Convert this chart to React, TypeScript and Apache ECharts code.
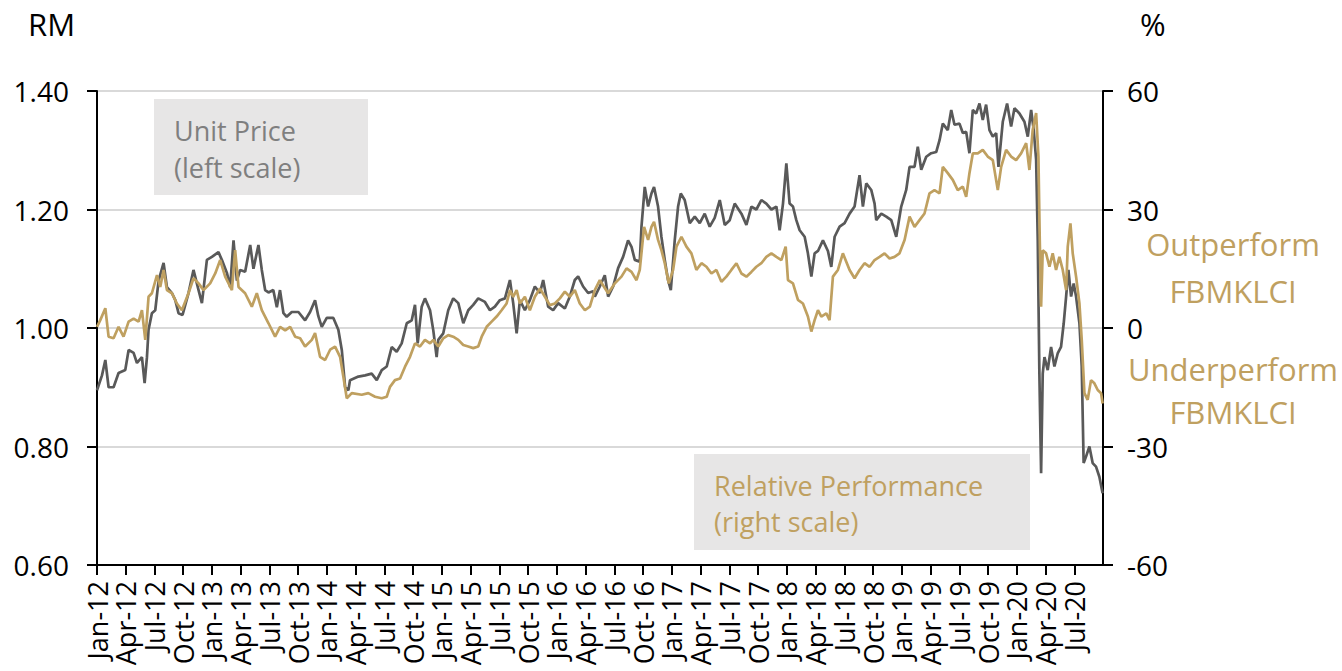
import React, { useEffect, useRef } from 'react';
import * as echarts from 'echarts';

// x value = months since Jan-12 (0 = start of Jan 2012)
const xTickLabels = [
  'Jan-12', 'Apr-12', 'Jul-12', 'Oct-12',
  'Jan-13', 'Apr-13', 'Jul-13', 'Oct-13',
  'Jan-14', 'Apr-14', 'Jul-14', 'Oct-14',
  'Jan-15', 'Apr-15', 'Jul-15', 'Oct-15',
  'Jan-16', 'Apr-16', 'Jul-16', 'Oct-16',
  'Jan-17', 'Apr-17', 'Jul-17', 'Oct-17',
  'Jan-18', 'Apr-18', 'Jul-18', 'Oct-18',
  'Jan-19', 'Apr-19', 'Jul-19', 'Oct-19',
  'Jan-20', 'Apr-20', 'Jul-20',
];
const leftTickLabels = ['0.60', '0.80', '1.00', '1.20', '1.40'];
const rightTickLabels = ['-60', '-30', '0', '30', '60'];

// Unit price (RM, left scale): [month, price]
const unitPrice: [number, number][] = [
  [0.0, 0.895], [0.52, 0.92], [0.87, 0.946], [1.21, 0.9], [1.73, 0.9], [2.25, 0.924],
  [2.95, 0.929], [3.3, 0.963], [3.82, 0.958], [4.17, 0.941], [4.69, 0.951], [4.97, 0.907],
  [5.21, 0.95], [5.38, 0.997], [5.73, 1.025], [6.08, 1.03], [6.43, 1.08], [6.95, 1.11],
  [7.3, 1.069], [7.82, 1.059], [8.17, 1.047], [8.51, 1.025], [8.93, 1.022], [9.55, 1.059],
  [10.07, 1.098], [10.6, 1.064], [10.95, 1.042], [11.47, 1.115], [11.99, 1.12], [12.68, 1.128],
  [13.03, 1.115], [13.56, 1.093], [13.9, 1.069], [14.25, 1.148], [14.6, 1.08], [14.94, 1.098],
  [15.46, 1.095], [15.99, 1.14], [16.33, 1.1], [16.85, 1.14], [17.2, 1.098], [17.55, 1.064],
  [17.9, 1.06], [18.4, 1.064], [18.77, 1.035], [19.1, 1.064], [19.46, 1.025], [19.8, 1.019],
  [20.33, 1.027], [21.02, 1.027], [21.72, 1.013], [22.24, 1.027], [22.76, 1.047], [23.1, 1.02],
  [23.46, 1.002], [23.98, 1.017], [24.67, 1.017], [25.19, 0.997], [25.55, 0.963], [25.9, 0.9],
  [26.24, 0.895], [26.41, 0.912], [27.28, 0.918], [27.98, 0.92], [28.67, 0.923], [29.2, 0.912],
  [29.72, 0.929], [30.24, 0.935], [30.76, 0.968], [31.28, 0.96], [31.8, 0.974], [32.33, 1.008],
  [32.85, 1.013], [33.19, 1.039], [33.47, 0.974], [33.89, 1.036], [34.23, 1.05], [34.76, 1.03],
  [35.1, 0.996], [35.45, 0.951], [35.62, 0.98], [36.14, 0.991], [36.66, 1.03], [37.18, 1.05],
  [37.71, 1.042], [38.23, 1.008], [38.75, 1.03], [39.27, 1.039], [39.79, 1.05], [40.49, 1.044],
  [41.01, 1.03], [41.53, 1.036], [42.05, 1.047], [42.58, 1.05], [43.1, 1.081], [43.44, 1.042],
  [43.8, 0.991], [44.14, 1.047], [44.66, 1.03], [45.18, 1.047], [45.7, 1.07], [46.23, 1.059],
  [46.57, 1.081], [47.09, 1.036], [47.61, 1.03], [48.13, 1.042], [48.83, 1.033], [49.35, 1.053],
  [49.87, 1.081], [50.22, 1.087], [50.74, 1.07], [51.26, 1.059], [51.78, 1.062], [51.96, 1.053],
  [52.48, 1.07], [53.0, 1.089], [53.35, 1.053], [53.87, 1.07], [54.39, 1.101], [54.91, 1.12],
  [55.43, 1.148], [55.79, 1.137], [56.13, 1.115], [56.65, 1.112], [56.83, 1.171], [57.17, 1.238],
  [57.52, 1.205], [57.87, 1.227], [58.14, 1.238], [58.56, 1.205], [58.91, 1.154], [59.26, 1.115],
  [59.6, 1.081], [59.89, 1.064], [60.3, 1.148], [60.65, 1.205], [60.93, 1.227], [61.34, 1.216],
  [61.87, 1.177], [62.39, 1.188], [62.91, 1.177], [63.43, 1.193], [63.95, 1.171], [64.47, 1.186],
  [65.0, 1.216], [65.52, 1.174], [66.04, 1.182], [66.56, 1.21], [67.26, 1.193], [67.78, 1.174],
  [68.3, 1.205], [68.82, 1.2], [69.34, 1.216], [69.86, 1.21], [70.39, 1.2], [70.91, 1.205],
  [71.25, 1.165], [71.6, 1.21], [71.95, 1.278], [72.29, 1.21], [72.64, 1.205], [72.99, 1.182],
  [73.34, 1.165], [73.86, 1.154], [74.2, 1.126], [74.56, 1.087], [74.9, 1.126], [75.25, 1.13],
  [75.77, 1.148], [76.29, 1.13], [76.64, 1.103], [76.99, 1.154], [77.51, 1.171], [78.03, 1.177],
  [78.55, 1.193], [79.07, 1.205], [79.59, 1.258], [79.94, 1.205], [80.29, 1.244], [80.81, 1.233],
  [81.16, 1.21], [81.33, 1.182], [81.86, 1.193], [82.38, 1.188], [82.9, 1.182], [83.42, 1.154],
  [83.94, 1.205], [84.46, 1.233], [84.81, 1.272], [85.33, 1.272], [85.67, 1.306], [86.03, 1.267],
  [86.55, 1.289], [87.07, 1.295], [87.59, 1.297], [87.94, 1.317], [88.28, 1.345], [88.8, 1.334],
  [89.16, 1.368], [89.5, 1.343], [90.02, 1.345], [90.37, 1.329], [90.72, 1.331], [91.06, 1.295],
  [91.41, 1.368], [91.76, 1.362], [92.11, 1.379], [92.45, 1.351], [92.8, 1.377], [93.15, 1.334],
  [93.5, 1.323], [93.85, 1.329], [94.09, 1.272], [94.54, 1.348], [94.99, 1.379], [95.41, 1.34],
  [95.76, 1.371], [96.28, 1.362], [96.8, 1.348], [97.15, 1.323], [97.5, 1.368], [97.77, 1.334],
  [98.02, 1.284], [98.19, 1.148], [98.36, 0.923], [98.54, 0.755], [98.71, 0.923], [98.89, 0.951],
  [99.23, 0.929], [99.58, 0.968], [99.93, 0.935], [100.27, 0.957], [100.62, 0.968], [100.9, 1.008],
  [101.15, 1.053], [101.39, 1.098], [101.67, 1.053], [101.94, 1.075], [102.19, 1.053], [102.54, 1.008],
  [102.78, 0.935], [102.98, 0.772], [103.23, 0.783], [103.58, 0.8], [103.92, 0.772], [104.27, 0.766],
  [104.62, 0.749], [104.96, 0.721],
];

// Relative performance vs FBMKLCI (%, right scale): [month, pct]
const relativePerf: [number, number][] = [
  [0, 0.3], [0.34, 2.0], [0.87, 5.0], [1.21, -2.2], [1.73, -2.6], [2.25, 0.3],
  [2.77, -2.2], [3.3, 1.6], [3.82, 2.4], [4.34, 1.6], [4.69, 4.5], [5.04, -3.0],
  [5.38, 7.9], [5.73, 8.8], [6.26, 13.4], [6.6, 10.4], [6.95, 14.7], [7.3, 9.6],
  [7.82, 8.8], [8.34, 6.2], [8.86, 4.5], [9.55, 8.8], [10.07, 12.6], [10.6, 11.3],
  [11.12, 9.6], [11.81, 11.3], [12.34, 13.8], [12.86, 17.2], [13.38, 13.0], [14.08, 9.6],
  [14.42, 19.7], [14.77, 10.4], [15.46, 8.8], [16.16, 5.4], [16.68, 8.8], [17.2, 4.5],
  [17.9, 1.2], [18.59, -2.2], [19.11, 0.3], [19.64, -0.6], [20.16, 0.3], [20.68, -2.2],
  [21.2, -2.6], [21.72, -4.7], [22.42, -3.0], [22.76, -1.3], [23.28, -7.3], [23.81, -8.1],
  [24.33, -5.5], [24.85, -4.7], [25.37, -7.3], [25.71, -12.3], [26.07, -17.8], [26.59, -16.5],
  [27.63, -16.9], [28.32, -16.5], [29.02, -17.4], [29.72, -17.8], [30.24, -17.4], [30.58, -14.9],
  [31.1, -13.2], [31.63, -12.8], [32.15, -9.8], [32.67, -7.3], [33.19, -3.9], [33.71, -4.7],
  [34.23, -3.0], [34.76, -3.9], [35.1, -3.0], [35.62, -4.7], [36.14, -2.6], [36.66, -1.8],
  [37.18, -2.2], [37.71, -3.0], [38.23, -4.3], [38.75, -4.7], [39.27, -5.1], [39.79, -4.7],
  [40.15, -2.2], [40.67, 0.3], [41.19, 1.6], [41.71, 2.9], [42.23, 4.5], [42.75, 6.2],
  [43.1, 9.6], [43.44, 7.9], [43.8, 9.6], [44.14, 6.2], [44.66, 7.9], [45.18, 4.5],
  [45.7, 7.9], [46.23, 10.0], [46.75, 7.9], [47.27, 5.8], [47.79, 6.2], [48.31, 7.5],
  [48.83, 9.2], [49.35, 7.9], [49.87, 9.6], [50.39, 6.2], [50.92, 4.5], [51.44, 5.4],
  [51.96, 9.6], [52.48, 12.1], [53.35, 8.8], [54.05, 11.3], [54.74, 13.0], [55.27, 15.1],
  [55.79, 14.2], [56.31, 12.1], [56.65, 14.7], [57.1, 25.6], [57.52, 22.3], [57.87, 25.6],
  [58.14, 26.9], [58.56, 22.3], [58.91, 19.7], [59.26, 16.4], [59.68, 11.3], [60.13, 14.7],
  [60.48, 20.6], [61.0, 23.1], [61.52, 20.6], [62.04, 18.9], [62.56, 14.7], [63.09, 16.4],
  [63.61, 15.5], [64.13, 13.8], [64.65, 14.7], [65.17, 11.7], [65.69, 13.0], [66.21, 14.7],
  [66.74, 16.4], [67.26, 13.8], [67.78, 13.0], [68.3, 14.2], [68.82, 15.5], [69.34, 16.4],
  [69.86, 18.0], [70.39, 18.9], [70.91, 18.0], [71.43, 17.2], [71.88, 20.6], [72.12, 12.1],
  [72.64, 11.3], [73.16, 7.1], [73.68, 6.2], [74.2, 2.9], [74.56, -0.9], [74.9, 2.0],
  [75.25, 4.5], [75.6, 2.9], [76.12, 3.7], [76.46, 2.0], [76.81, 13.0], [77.33, 14.7],
  [77.85, 18.9], [78.55, 14.7], [79.07, 12.6], [79.59, 14.7], [80.11, 16.4], [80.64, 15.5],
  [81.16, 17.2], [81.68, 18.0], [82.2, 18.9], [82.72, 17.6], [83.24, 18.0], [83.76, 18.9],
  [84.29, 22.3], [84.81, 28.2], [85.33, 25.6], [85.85, 27.3], [86.37, 29.0], [86.89, 34.1],
  [87.41, 34.9], [87.94, 34.1], [88.28, 40.8], [88.8, 39.2], [89.32, 37.5], [89.84, 34.9],
  [90.37, 35.8], [90.72, 33.2], [91.06, 39.2], [91.41, 44.2], [91.93, 44.2], [92.45, 45.1],
  [92.97, 43.4], [93.5, 42.5], [94.02, 34.9], [94.37, 40.8], [94.89, 45.1], [95.41, 43.4],
  [95.93, 42.5], [96.45, 44.2], [96.98, 46.8], [97.32, 40.0], [97.66, 50.1], [98.02, 54.4],
  [98.26, 43.4], [98.4, 22.3], [98.54, 5.4], [98.71, 19.7], [99.06, 18.9], [99.41, 15.5],
  [99.75, 18.9], [100.1, 14.7], [100.45, 18.0], [100.8, 14.7], [101.15, 9.6], [101.32, 20.6],
  [101.6, 26.5], [101.84, 18.9], [102.19, 13.0], [102.54, 6.2], [102.78, -3.0], [103.06, -16.5],
  [103.4, -18.2], [103.75, -13.2], [104.1, -14.0], [104.45, -15.7], [104.8, -16.5], [104.96, -19.1],
];

const FONT = "'Open Sans', 'DejaVu Sans', sans-serif";
const GREY_LINE = '#595959';
const GOLD = '#BFA060';
const BOX = '#E7E6E6';

export default function App() {
  const ref = useRef<HTMLDivElement>(null);

  useEffect(() => {
    if (!ref.current) return;
    const chart = echarts.init(ref.current, null, { renderer: 'svg' });

    const axisLine = { show: true, onZero: false, lineStyle: { color: '#000', width: 2 } };
    const axisTick = { show: true, length: 10, inside: false, lineStyle: { color: '#000', width: 2 } };

    const txt = (text: string, x: number, y: number, fill: string, size: number, align = 'left') => ({
      type: 'text',
      x,
      y,
      z: 10,
      style: {
        text,
        fill,
        fontSize: size,
        fontFamily: FONT,
        align,
        verticalAlign: 'middle',
      },
    });

    chart.setOption({
      animation: false,
      backgroundColor: '#fff',
      grid: { left: 97, right: 239, top: 91, bottom: 106, containLabel: false },
      xAxis: {
        type: 'value',
        min: 0,
        max: 105,
        interval: 3,
        axisLine,
        axisTick,
        splitLine: { show: false },
        axisLabel: {
          rotate: 90,
          margin: 16,
          fontSize: 27,
          fontFamily: FONT,
          color: '#000',
          showMaxLabel: false,
          padding: [10, 0, 0, 0],
          formatter: (v: number) => {
            const i = Math.round(v / 3);
            return v < 104.5 ? xTickLabels[i] ?? '' : '';
          },
        },
      },
      yAxis: [
        {
          type: 'value',
          position: 'left',
          min: 0.6,
          max: 1.4,
          interval: 0.2,
          axisLine,
          axisTick,
          splitLine: { show: true, lineStyle: { color: '#D9D9D9', width: 2 } },
          axisLabel: {
            margin: 28,
            fontSize: 28,
            fontFamily: FONT,
            color: '#000',
            formatter: (v: number) => leftTickLabels[Math.round((v - 0.6) / 0.2)] ?? '',
          },
        },
        {
          type: 'value',
          position: 'right',
          min: -60,
          max: 60,
          interval: 30,
          axisLine,
          axisTick,
          splitLine: { show: false },
          axisLabel: {
            margin: 24,
            fontSize: 28,
            fontFamily: FONT,
            color: '#000',
            formatter: (v: number) => rightTickLabels[Math.round((v + 60) / 30)] ?? '',
          },
        },
      ],
      series: [
        {
          name: 'Unit Price',
          type: 'line',
          yAxisIndex: 0,
          data: unitPrice,
          showSymbol: false,
          symbol: 'none',
          lineStyle: { color: GREY_LINE, width: 2.7 },
          z: 2,
        },
        {
          name: 'Relative Performance',
          type: 'line',
          yAxisIndex: 1,
          data: relativePerf,
          showSymbol: false,
          symbol: 'none',
          lineStyle: { color: GOLD, width: 2.7 },
          z: 3,
        },
      ],
      graphic: [
        { type: 'rect', z: 5, shape: { x: 154, y: 99, width: 214, height: 96 }, style: { fill: BOX } },
        { type: 'rect', z: 5, shape: { x: 694, y: 454, width: 336, height: 96 }, style: { fill: BOX } },
        txt('RM', 28, 24, '#000', 31),
        txt('%', 1140, 24, '#000', 31),
        txt('Unit Price', 174, 130, '#7F7F7F', 27),
        txt('(left scale)', 174, 167, '#7F7F7F', 27),
        txt('Relative Performance', 714, 485, GOLD, 27),
        txt('(right scale)', 714, 521, GOLD, 27),
        txt('Outperform', 1233, 244, GOLD, 31, 'center'),
        txt('FBMKLCI', 1233, 291, GOLD, 31, 'center'),
        txt('Underperform', 1233, 369, GOLD, 31, 'center'),
        txt('FBMKLCI', 1233, 412, GOLD, 31, 'center'),
      ],
    });

    return () => chart.dispose();
  }, []);

  return (
    <div
      ref={ref}
      style={{ position: 'fixed', left: 0, top: 0, width: 1342, height: 671, background: '#fff' }}
    />
  );
}
